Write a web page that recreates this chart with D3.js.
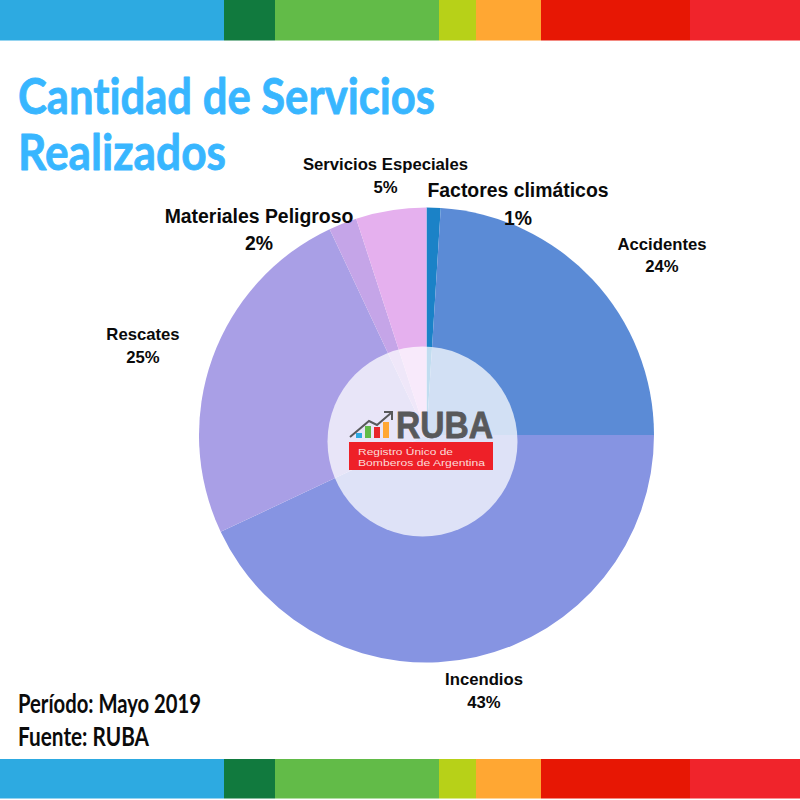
<!DOCTYPE html>
<html>
<head>
<meta charset="utf-8">
<script src="https://cdn.jsdelivr.net/npm/d3@7"></script>
<style>
  html, body { margin: 0; padding: 0; background: #fff; }
  svg { display: block; }
  text { font-family: "Liberation Sans", Arial, sans-serif; }
  .display { font-family: Lato, "Open Sans", sans-serif; font-variant-ligatures: none; stroke-linejoin: round; }
</style>
</head>
<body>
<svg id="chart" width="800" height="800"></svg>
<script>
// values
var categories = ['Factores climáticos', 'Accidentes', 'Incendios', 'Rescates', 'Materiales Peligroso', 'Servicios Especiales'];
var percents = [1, 24, 43, 25, 2, 5];
var sliceColors = ['#1b82c7', '#5b8bd6', '#8694e2', '#a99fe6', '#c5a5e8', '#e5b0ee'];

// colour band top and bottom: stop is where each colour ends
var bandStops = [224, 275, 439, 476, 541, 690, 800];
var bandColors = ['#2daae1', '#117a3e', '#62bb48', '#b7d118', '#ffa733', '#e71704', '#f0242b'];

var logoBars = [5, 12, 11, 16];
var logoBarColors = ['#2daae1', '#62bb48', '#e8262c', '#ffa733'];

// label placement, not data
var labelLayout = {
  'Factores climáticos': { x: 518, y: 197, y2: 225, size: 19.4 },
  'Accidentes': { x: 662, y: 250, y2: 272, size: 16.7 },
  'Incendios': { x: 484, y: 685, y2: 708, size: 16.7 },
  'Rescates': { x: 143, y: 340, y2: 363, size: 16.7 },
  'Materiales Peligroso': { x: 259, y: 223, y2: 250, size: 19.4 },
  'Servicios Especiales': { x: 385.5, y: 170, y2: 193, size: 16.7 }
};

var svg = d3.select('#chart');

// bands
var bandX = d3.scaleLinear().domain([0, 800]).range([0, 800]);
[[0, 40.5], [759, 39.5]].forEach(function(b) {
  svg.append('g').selectAll('rect')
    .data(bandStops)
    .enter()
    .append('rect')
    .attr('x', function(d, i) { return bandX(i ? bandStops[i - 1] : 0); })
    .attr('y', b[0])
    .attr('width', function(d, i) { return bandX(d) - bandX(i ? bandStops[i - 1] : 0); })
    .attr('height', b[1])
    .attr('fill', function(d, i) { return bandColors[i]; });
});

// title and footer
function display(txt, x, y, size, weight, color, len, thicken) {
  svg.append('text')
    .attr('class', 'display')
    .attr('x', x).attr('y', y)
    .attr('font-size', size)
    .attr('font-weight', weight)
    .attr('fill', color)
    .attr('stroke', color)
    .attr('stroke-width', thicken)
    .attr('textLength', len)
    .attr('lengthAdjust', 'spacingAndGlyphs')
    .text(txt);
}
display('Cantidad de Servicios', 18, 114, 50, 700, '#38b6ff', 417, 0.8);
display('Realizados', 18, 170, 50, 700, '#38b6ff', 208, 0.8);
display('Período: Mayo 2019', 18, 713, 26, 700, '#0b0b0b', 183, 0);
display('Fuente: RUBA', 18, 746, 26, 700, '#0b0b0b', 131, 0);

// pie, clockwise from 12 o'clock
var cx = 426.5, cy = 435, radius = 227.5;
var pie = d3.pie().sort(null);
var arc = d3.arc().innerRadius(0).outerRadius(radius);
var pieG = svg.append('g').attr('transform', 'translate(' + cx + ',' + cy + ')');
pieG.selectAll('path')
  .data(pie(percents))
  .enter()
  .append('path')
  .attr('d', arc)
  .attr('fill', function(d, i) { return sliceColors[i]; });

// labels
categories.forEach(function(name, i) {
  var l = labelLayout[name];
  var label = svg.append('g')
    .attr('text-anchor', 'middle')
    .attr('font-weight', 700)
    .attr('font-size', l.size)
    .attr('fill', '#0a0a0a');
  label.append('text').attr('x', l.x).attr('y', l.y).text(name);
  label.append('text').attr('x', l.x).attr('y', l.y2).text(percents[i] + '%');
});

// translucent hub with the logo
svg.append('circle')
  .attr('cx', 422.5).attr('cy', 441.5).attr('r', 95)
  .attr('fill', '#fff')
  .attr('fill-opacity', 0.73);

var logo = svg.append('g');
var barY = d3.scaleLinear().domain([0, 16]).range([438, 422]);
logo.selectAll('rect')
  .data(logoBars)
  .enter()
  .append('rect')
  .attr('x', function(d, i) { return 356 + i * 9; })
  .attr('y', function(d) { return barY(d); })
  .attr('width', 6)
  .attr('height', function(d) { return barY(0) - barY(d); })
  .attr('fill', function(d, i) { return logoBarColors[i]; });
logo.append('path')
  .attr('d', 'M350 437L369 421L377 425L391 413M384 412L392 412L392 420')
  .attr('fill', 'none')
  .attr('stroke', '#58595b')
  .attr('stroke-width', 2);
logo.append('text')
  .attr('x', 396).attr('y', 438)
  .attr('font-size', 36).attr('font-weight', 700)
  .attr('fill', '#58595b')
  .attr('stroke', '#58595b')
  .attr('stroke-width', 0.8)
  .attr('textLength', 97).attr('lengthAdjust', 'spacingAndGlyphs')
  .text('RUBA');
logo.append('rect')
  .attr('x', 349).attr('y', 442)
  .attr('width', 144).attr('height', 28)
  .attr('fill', '#ee2028');
logo.append('text')
  .attr('x', 358).attr('y', 455)
  .attr('font-size', 9.5).attr('fill', '#fbdcd8')
  .attr('textLength', 95).attr('lengthAdjust', 'spacingAndGlyphs')
  .text('Registro Único de');
logo.append('text')
  .attr('x', 358).attr('y', 466)
  .attr('font-size', 9.5).attr('fill', '#fbdcd8')
  .attr('textLength', 127).attr('lengthAdjust', 'spacingAndGlyphs')
  .text('Bomberos de Argentina');
</script>
</body>
</html>
